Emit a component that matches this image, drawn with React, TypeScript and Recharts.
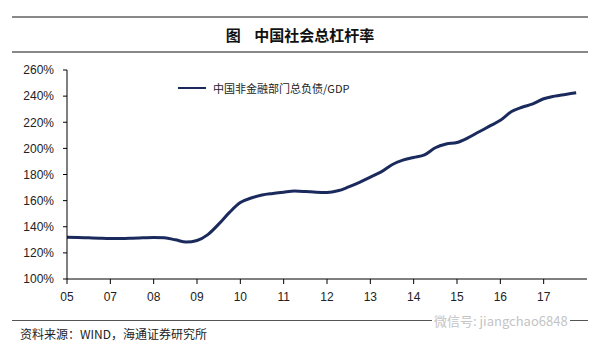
import { Line, LineChart, XAxis, YAxis } from "recharts";

// quarterly, 2005Q1 .. 2016Q4-ish, total non-financial debt / GDP (%)
const debtRatio = [
  132, 131.8, 131.5, 131.2, 131, 131, 131.2, 131.5, 131.8, 131.5, 130, 128.3,
  129.5, 134, 142, 151, 158.5, 162, 164.3, 165.5, 166.5, 167.3, 167, 166.5,
  166.3, 167.5, 170.5, 174, 178, 182, 187.5, 191, 193, 195, 200.5, 203.3,
  204.5, 208, 212.5, 217, 221.5, 228, 231.5, 234, 238, 240, 241.3, 242.6,
];
const yearTicks = [0, 4, 8, 12, 16, 20, 24, 28, 32, 36, 40, 44];
const yearLabels = ["05", "07", "08", "09", "10", "11", "12", "13", "14", "15", "16", "17"];
const pctTicks = [100, 120, 140, 160, 180, 200, 220, 240, 260];
const seriesName = "中国非金融部门总负债/GDP";

const data = debtRatio.map((v, i) => ({ q: i, ratio: v }));

const NAVY = "#1b2a5c";
const LATIN = '"Liberation Sans", Arial, sans-serif';
const CJK = '"Noto Sans CJK SC", "Liberation Sans", sans-serif';

export default function App() {
  return (
    <div style={{ position: "absolute", left: 0, top: 0, width: 600, height: 351, background: "#fff" }}>
      <div style={{ position: "absolute", left: 12, top: 16, width: 576, borderTop: "2px solid #888" }} />
      <div
        style={{
          position: "absolute", left: 0, top: 24, width: 600, textAlign: "center",
          fontFamily: CJK, fontWeight: 700, fontSize: 15, color: "#111", whiteSpace: "pre",
        }}
      >
        {"图    中国社会总杠杆率"}
      </div>
      <div style={{ position: "absolute", left: 12, top: 51, width: 576, borderTop: "2px solid #888" }} />

      <LineChart
        width={600}
        height={351}
        data={data}
        margin={{ top: 70, right: 13, bottom: 42, left: 0 }}
        style={{ position: "absolute", left: 0, top: 0 }}
      >
        <XAxis
          dataKey="q"
          type="number"
          domain={[0, 48]}
          ticks={yearTicks}
          tickFormatter={(v: number) => yearLabels[yearTicks.indexOf(v)] ?? ""}
          axisLine={{ stroke: "#000" }}
          tickLine={{ stroke: "#000" }}
          tickSize={5}
          tickMargin={8}
          height={30}
          tick={{ fill: "#222", fontSize: 12, fontFamily: LATIN }}
          interval={0}
        />
        <YAxis
          domain={[100, 260]}
          ticks={pctTicks}
          tickFormatter={(v: number) => `${v}%`}
          axisLine={{ stroke: "#000" }}
          tickLine={{ stroke: "#000" }}
          tickSize={4}
          tickMargin={9}
          width={67}
          tick={{ fill: "#222", fontSize: 12, fontFamily: LATIN }}
          interval={0}
        />
        <Line
          type="monotone"
          dataKey="ratio"
          name={seriesName}
          stroke={NAVY}
          strokeWidth={3}
          dot={false}
          isAnimationActive={false}
        />
      </LineChart>

      {/* legend */}
      <div
        style={{
          position: "absolute", left: 178, top: 80, display: "flex", alignItems: "center",
          fontFamily: CJK, fontSize: 11, color: "#222",
        }}
      >
        <span style={{ display: "inline-block", width: 28, height: 2, background: NAVY, marginRight: 7 }} />
        <span>{seriesName}</span>
      </div>

      <div style={{ position: "absolute", left: 12, top: 320, width: 576, borderTop: "1px solid #555" }} />
      <div
        style={{
          position: "absolute", left: 432, top: 311, fontFamily: CJK, fontSize: 13,
          color: "#c4c4c4", background: "#fff", padding: "0 2px",
        }}
      >
        微信号: jiangchao6848
      </div>
      <div style={{ position: "absolute", left: 20, top: 325, fontFamily: CJK, fontSize: 12, color: "#222" }}>
        资料来源：WIND，海通证券研究所
      </div>
    </div>
  );
}
